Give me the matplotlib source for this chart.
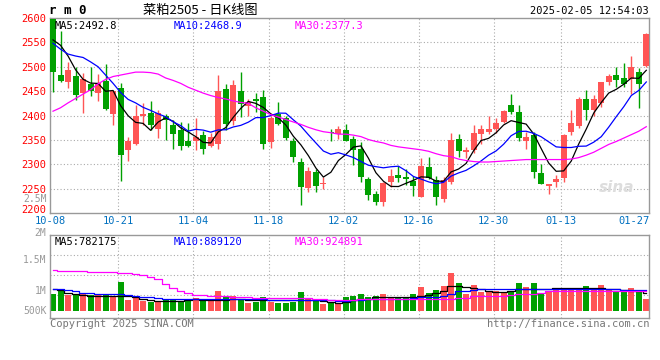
import matplotlib
matplotlib.use('Agg')
import matplotlib.pyplot as plt
import matplotlib.transforms as mtransforms

# ---- data ----
date_labels = ['10-08', '10-21', '11-04', '11-18', '12-02', '12-16', '12-30', '01-13', '01-27']
date_index = [0, 9, 19, 29, 39, 49, 59, 68, 78]

opens = [2597, 2484, 2468, 2482, 2447, 2465, 2446, 2470, 2403, 2457,
         2329, 2341, 2399, 2405, 2373, 2400, 2381, 2371, 2347, 2349,
         2361, 2337, 2342, 2455, 2389, 2451, 2419, 2433, 2438, 2345,
         2404, 2396, 2349, 2306, 2252, 2285, 2259, 2366, 2363, 2371,
         2352, 2332, 2270, 2240, 2224, 2265, 2278, 2275, 2266, 2234,
         2294, 2269, 2229, 2264, 2352, 2325, 2329, 2362, 2366, 2373,
         2386, 2421, 2408, 2349, 2360, 2283, 2255, 2264, 2273, 2366,
         2378, 2435, 2411, 2425, 2468, 2484, 2477, 2475, 2490, 2501]
highs = [2600, 2573, 2509, 2499, 2488, 2500, 2486, 2505, 2451, 2466,
         2356, 2421, 2425, 2430, 2411, 2404, 2390, 2386, 2385, 2396,
         2368, 2364, 2484, 2464, 2472, 2490, 2433, 2447, 2453, 2400,
         2428, 2400, 2355, 2314, 2294, 2291, 2274, 2373, 2378, 2383,
         2358, 2346, 2274, 2245, 2264, 2291, 2296, 2291, 2277, 2314,
         2315, 2277, 2274, 2365, 2363, 2336, 2381, 2380, 2399, 2396,
         2412, 2445, 2421, 2366, 2366, 2301, 2260, 2279, 2363, 2412,
         2438, 2453, 2442, 2469, 2486, 2500, 2508, 2521, 2497, 2570]
lows = [2448, 2468, 2457, 2432, 2406, 2440, 2429, 2411, 2380, 2266,
        2308, 2339, 2380, 2370, 2355, 2351, 2332, 2329, 2335, 2329,
        2322, 2335, 2332, 2370, 2380, 2398, 2400, 2407, 2332, 2333,
        2381, 2350, 2306, 2218, 2243, 2243, 2250, 2347, 2352, 2347,
        2298, 2264, 2227, 2216, 2214, 2253, 2264, 2257, 2236, 2233,
        2270, 2218, 2223, 2260, 2315, 2314, 2323, 2341, 2363, 2364,
        2384, 2403, 2347, 2332, 2273, 2259, 2240, 2253, 2264, 2360,
        2375, 2392, 2399, 2418, 2462, 2459, 2459, 2445, 2416, 2500]
closes = [2489, 2471, 2494, 2443, 2475, 2450, 2467, 2414, 2451, 2320,
          2347, 2399, 2403, 2380, 2405, 2390, 2363, 2337, 2338, 2357,
          2331, 2357, 2450, 2382, 2462, 2423, 2428, 2430, 2341, 2396,
          2382, 2355, 2315, 2253, 2286, 2255, 2262, 2364, 2373, 2349,
          2330, 2274, 2238, 2224, 2262, 2277, 2273, 2271, 2255, 2297,
          2273, 2234, 2268, 2351, 2327, 2330, 2364, 2373, 2373, 2384,
          2410, 2408, 2355, 2356, 2284, 2260, 2260, 2270, 2360, 2384,
          2435, 2412, 2435, 2468, 2481, 2473, 2464, 2499, 2464, 2567]

ma5 = [2555, 2544, 2522, 2494, 2474.4, 2466.6, 2465.8, 2449.8, 2451.4, 2420.4,
       2399.8, 2386.2, 2384.0, 2369.8, 2386.8, 2395.4, 2388.2, 2375.0, 2366.6, 2357.0,
       2345.2, 2344.0, 2366.6, 2375.4, 2396.4, 2414.8, 2429.0, 2425.0, 2416.8, 2403.6,
       2395.4, 2380.8, 2357.8, 2340.2, 2318.2, 2292.8, 2274.2, 2284.0, 2308.0, 2320.6,
       2335.6, 2338.0, 2312.8, 2283.0, 2265.6, 2255.0, 2254.8, 2261.4, 2267.6, 2274.6,
       2273.8, 2266.0, 2265.4, 2284.6, 2290.6, 2302.0, 2328.0, 2349.0, 2353.4, 2364.8,
       2380.8, 2389.6, 2386.0, 2382.6, 2362.6, 2332.6, 2303.0, 2286.0, 2286.8, 2306.8,
       2341.8, 2372.2, 2405.2, 2426.8, 2446.2, 2453.8, 2464.2, 2477.0, 2476.2, 2492.8]
ma10 = [2548, 2536, 2526, 2522, 2519, 2510, 2500, 2483, 2466, 2447.4,
        2433.2, 2426.0, 2416.9, 2410.6, 2403.6, 2397.6, 2387.2, 2379.5, 2368.2, 2371.9,
        2370.3, 2366.1, 2370.8, 2371.0, 2376.7, 2380.0, 2386.5, 2395.8, 2396.1, 2400.0,
        2405.1, 2404.9, 2391.4, 2378.5, 2360.9, 2344.1, 2327.5, 2320.9, 2324.1, 2319.4,
        2314.2, 2306.1, 2298.4, 2295.5, 2293.1, 2295.3, 2296.4, 2287.1, 2275.3, 2270.1,
        2264.4, 2260.4, 2263.4, 2276.1, 2282.6, 2287.9, 2297.0, 2307.2, 2319.0, 2327.7,
        2341.4, 2358.8, 2367.5, 2368.0, 2363.7, 2356.7, 2346.3, 2336.0, 2334.7, 2334.7,
        2337.2, 2337.6, 2345.6, 2356.8, 2376.5, 2397.8, 2418.2, 2441.1, 2451.5, 2468.9]
ma30 = [2409, 2416, 2426, 2435, 2444, 2453, 2465, 2474, 2480, 2483,
        2486, 2489, 2489, 2488, 2485, 2477, 2472, 2466, 2458, 2452,
        2446, 2441, 2437, 2434, 2430, 2427, 2425, 2416, 2409, 2402,
        2397, 2392, 2387, 2382, 2376, 2371, 2367, 2365, 2362, 2362,
        2360, 2357, 2351, 2347, 2344, 2339, 2336, 2334, 2332, 2330,
        2327, 2322, 2318, 2316, 2311, 2308, 2306, 2305, 2305, 2306,
        2307, 2308, 2309, 2310, 2310, 2310, 2310, 2310, 2310, 2311,
        2314, 2319, 2325, 2333, 2341, 2347, 2354, 2361, 2368, 2377.3]

# volume in millions
volume = [0.945, 1.028, 0.929, 0.945, 0.956, 0.929, 0.923, 0.923, 0.912, 1.149,
          0.846, 0.890, 0.835, 0.813, 0.824, 0.863, 0.863, 0.818, 0.846, 0.879,
          0.824, 0.824, 0.995, 0.890, 0.912, 0.868, 0.802, 0.818, 0.890, 0.818,
          0.802, 0.802, 0.807, 0.984, 0.857, 0.846, 0.780, 0.790, 0.800, 0.890,
          0.910, 0.945, 0.890, 0.910, 0.945, 0.890, 0.890, 0.890, 0.945, 1.067,
          0.967, 1.012, 1.078, 1.298, 1.133, 0.945, 1.095, 0.984, 0.995, 0.995,
          0.956, 0.984, 1.120, 1.067, 1.133, 0.956, 0.984, 1.012, 1.045, 1.045,
          1.030, 1.078, 1.045, 1.095, 1.023, 0.984, 1.000, 1.045, 0.984, 0.863]
vol_ma5 = [1.02, 1.01, 0.97, 0.95, 0.93, 0.92, 0.92, 0.92, 0.91, 0.91,
           0.91, 0.90, 0.87, 0.84, 0.83, 0.83, 0.83, 0.83, 0.85, 0.86,
           0.85, 0.85, 0.85, 0.85, 0.86, 0.86, 0.85, 0.85, 0.85, 0.85,
           0.84, 0.84, 0.84, 0.85, 0.85, 0.84, 0.83, 0.82, 0.80, 0.81,
           0.84, 0.86, 0.86, 0.89, 0.90, 0.90, 0.90, 0.90, 0.90, 0.92,
           0.93, 0.96, 1.00, 1.07, 1.07, 1.06, 1.05, 1.03, 1.00, 0.98,
           0.98, 1.00, 1.02, 1.02, 1.03, 1.03, 1.03, 1.04, 1.04, 1.04,
           1.04, 1.05, 1.05, 1.04, 1.03, 1.02, 1.01, 1.00, 0.99, 0.97]
vol_ma10 = [1.02, 1.02, 1.01, 0.99, 0.97, 0.96, 0.95, 0.95, 0.94, 0.94,
            0.93, 0.92, 0.90, 0.89, 0.88, 0.87, 0.87, 0.87, 0.87, 0.87,
            0.86, 0.86, 0.86, 0.86, 0.86, 0.86, 0.86, 0.86, 0.86, 0.85,
            0.85, 0.85, 0.85, 0.85, 0.85, 0.84, 0.84, 0.84, 0.835, 0.835,
            0.84, 0.85, 0.86, 0.86, 0.86, 0.86, 0.86, 0.87, 0.88, 0.89,
            0.90, 0.90, 0.91, 0.95, 0.99, 1.00, 1.01, 1.02, 1.03, 1.03,
            1.03, 1.03, 1.03, 1.03, 1.03, 1.03, 1.03, 1.03, 1.03, 1.02,
            1.02, 1.02, 1.02, 1.02, 1.02, 1.02, 1.01, 1.01, 1.01, 1.01]
vol_ma30 = [1.34, 1.32, 1.32, 1.32, 1.32, 1.31, 1.31, 1.31, 1.31, 1.30,
            1.30, 1.28, 1.26, 1.23, 1.19, 1.11, 1.04, 1.00, 0.96, 0.93,
            0.925, 0.92, 0.915, 0.912, 0.90, 0.89, 0.89, 0.885, 0.885, 0.885,
            0.885, 0.88, 0.88, 0.88, 0.875, 0.87, 0.86, 0.85, 0.846, 0.846,
            0.85, 0.855, 0.855, 0.855, 0.857, 0.857, 0.857, 0.857, 0.857, 0.857,
            0.857, 0.857, 0.857, 0.87, 0.874, 0.874, 0.91, 0.912, 0.912, 0.915,
            0.92, 0.93, 0.945, 0.945, 0.95, 0.97, 1.00, 1.00, 1.00, 1.00,
            1.00, 1.00, 1.00, 1.00, 1.00, 1.00, 1.00, 1.00, 1.00, 1.00]

RED = '#ff5555'
GREEN = '#00a000'
GRID = '#aaaaaa'
MONO = 'DejaVu Sans Mono'
FS = 7.5

W, H = 660, 360


def px_text(fig, x, y, s, **kw):
    fig.text(x / W, 1 - y / H, s, **kw)


def plot_kline(out):
    fig = plt.figure(figsize=(6.6, 3.6), dpi=100)
    fig.patch.set_facecolor('white')
    n = len(closes)
    xs = list(range(n))
    colors = [RED if c >= o else GREEN for o, c in zip(opens, closes)]

    # ---- price panel ----
    ax = fig.add_axes([50 / W, 1 - 213.3 / H, 599.3 / W, 195.4 / H])
    ax.set_xlim(-0.4, n - 0.6)
    ax.set_ylim(2200, 2600)
    for y in range(2250, 2600, 50):
        ax.axhline(y, color=GRID, lw=0.8, ls=(0, (1, 2)), zorder=0)
    for i in date_index[1:-1]:
        ax.axvline(i - 0.3, color=GRID, lw=0.8, ls=(0, (1, 2)), zorder=0)

    ax.vlines(xs, lows, highs, colors=colors, lw=1.0, zorder=2)
    bottoms = [min(o, c) for o, c in zip(opens, closes)]
    heights = [max(abs(c - o), 1.5) for o, c in zip(opens, closes)]
    ax.bar(xs, heights, bottom=bottoms, width=0.8, color=colors, lw=0, zorder=3)

    ax.plot(xs, ma5, color='black', lw=0.9, zorder=4)
    ax.plot(xs, ma10, color='#0000ff', lw=0.9, zorder=4)
    ax.plot(xs, ma30, color='#ff00ff', lw=0.9, zorder=4)

    ax.set_yticks(range(2200, 2601, 50))
    ax.tick_params(axis='y', length=0, pad=3, labelcolor='#ff0000', labelsize=FS)
    for lab in ax.get_yticklabels():
        lab.set_family(MONO)
    ax.get_yticklabels()[0].set_va('baseline')
    ax.set_xticks([])
    for sp in ax.spines.values():
        sp.set_color('#999999')
        sp.set_linewidth(1.0)

    trans = mtransforms.blended_transform_factory(ax.transData, ax.transAxes)
    for lab, i in zip(date_labels, date_index):
        if i == date_index[-1]:
            ax.text(1.0, -0.04, lab, transform=ax.transAxes, ha='right', va='center',
                    color='#0070c0', fontsize=FS, family=MONO, clip_on=False)
        else:
            ax.text(i - 0.3, -0.04, lab, transform=trans, ha='center', va='center',
                    color='#0070c0', fontsize=FS, family=MONO, clip_on=False)

    ax.text(0.008, 0.985, 'MA5:%.1f' % ma5[-1], transform=ax.transAxes, ha='left', va='top',
            fontsize=FS, family=MONO, color='black')
    ax.text(0.207, 0.985, 'MA10:%.1f' % ma10[-1], transform=ax.transAxes, ha='left', va='top',
            fontsize=FS, family=MONO, color='#0000ff')
    ax.text(0.409, 0.985, 'MA30:%.1f' % ma30[-1], transform=ax.transAxes, ha='left', va='top',
            fontsize=FS, family=MONO, color='#ff00ff')
    ax.text(0.975, 0.13, 'sina', transform=ax.transAxes, ha='right', va='center',
            fontsize=11, fontweight='bold', style='italic', color='#dddddd', zorder=1)

    # ---- volume panel ----
    vmin, vmax = 0.553, 1.927
    vbase = 0.669
    av = fig.add_axes([50 / W, 1 - 317.7 / H, 599.3 / W, 83 / H])
    av.set_xlim(-0.4, n - 0.6)
    av.set_ylim(vmin, vmax)
    for frac in (0.273, 0.514, 0.755):
        av.axhline(vmin + frac * (vmax - vmin), color=GRID, lw=0.8, ls=(0, (1, 2)), zorder=0)
    for i in date_index[1:-1]:
        av.axvline(i - 0.3, color=GRID, lw=0.8, ls=(0, (1, 2)), zorder=0)
    av.bar(xs, [v - vbase for v in volume], bottom=vbase, width=0.8, color=colors, lw=0, zorder=2)
    av.plot(xs, vol_ma5, color='black', lw=0.9, drawstyle='steps-mid', zorder=3)
    av.plot(xs, vol_ma10, color='#0000ff', lw=0.9, drawstyle='steps-mid', zorder=3)
    av.plot(xs, vol_ma30, color='#ff00ff', lw=0.9, drawstyle='steps-mid', zorder=3)
    av.set_xticks([])
    av.set_yticks([])
    for sp in av.spines.values():
        sp.set_color('#999999')
        sp.set_linewidth(1.0)

    vtrans = mtransforms.blended_transform_factory(av.transAxes, av.transData)
    for val, lab in [(2.52, '2.5M'), (1.955, '2M'), (1.5, '1.5M'), (1.0, '1M'), (0.67, '500K')]:
        av.text(-0.006, val, lab, transform=vtrans, ha='right', va='center',
                fontsize=FS - 0.5, family=MONO, color='#999999', clip_on=False)

    av.text(0.008, 0.97, 'MA5:782175', transform=av.transAxes, ha='left', va='top',
            fontsize=FS, family=MONO, color='black')
    av.text(0.207, 0.97, 'MA10:889120', transform=av.transAxes, ha='left', va='top',
            fontsize=FS, family=MONO, color='#0000ff')
    av.text(0.409, 0.97, 'MA30:924891', transform=av.transAxes, ha='left', va='top',
            fontsize=FS, family=MONO, color='#ff00ff')

    # ---- header / footer ----
    px_text(fig, 49, 11, 'r m 0', fontsize=9, fontweight='bold', family=MONO,
            ha='left', va='center', color='black')
    px_text(fig, 200, 10, '菜粕2505 - 日K线图', fontsize=9.5,
            family=['Noto Sans CJK SC', 'DejaVu Sans'], ha='center', va='center', color='black')
    px_text(fig, 649, 11, '2025-02-05 12:54:03', fontsize=FS, family=MONO,
            ha='right', va='center', color='black')
    px_text(fig, 50, 324, 'Copyright 2025 SINA.COM', fontsize=FS, family=MONO,
            ha='left', va='center', color='#777777')
    px_text(fig, 649, 324, 'http://finance.sina.com.cn', fontsize=FS, family=MONO,
            ha='right', va='center', color='#777777')

    fig.savefig(out, dpi=100)


if __name__ == '__main__':
    plot_kline('out.png')
